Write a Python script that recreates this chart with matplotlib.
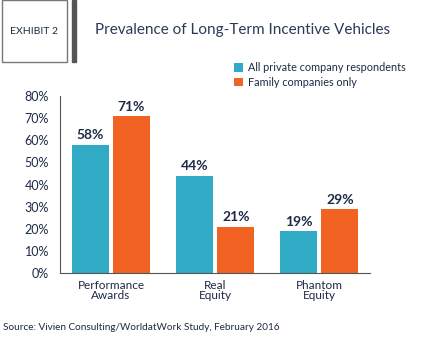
import numpy as np
import matplotlib.pyplot as plt
from matplotlib.patches import Rectangle

plt.rcParams['font.family'] = ['Lato', 'DejaVu Sans']

categories = ['Performance\nAwards', 'Real\nEquity', 'Phantom\nEquity']
all_private = [58, 44, 19]
family_only = [71, 21, 29]
series_names = ['All private company respondents', 'Family companies only']
yticks = [0, 10, 20, 30, 40, 50, 60, 70, 80]

blue = '#31aac5'
orange = '#f26223'
navy = '#1d2a45'

W, H = 421, 338
fig = plt.figure(figsize=(W / 100, H / 100), dpi=100)
ax = fig.add_axes([60 / W, (H - 273) / H, 310 / W, 177 / H])

x = np.arange(len(categories))
bw = 0.356
off = 0.197
b1 = ax.bar(x - off, all_private, bw, color=blue, label=series_names[0])
b2 = ax.bar(x + off, family_only, bw, color=orange, label=series_names[1])

for bars in (b1, b2):
    for r in bars:
        ax.text(r.get_x() + r.get_width() / 2, r.get_height() + 1.5,
                '%d%%' % r.get_height(), ha='center', va='bottom',
                fontsize=10, fontweight='bold', color=navy)

ax.set_xlim(-0.49, 2.486)
ax.set_ylim(0, 80)
ax.set_yticks(yticks)
ax.set_yticklabels(['%d%%' % v for v in yticks], fontsize=9, color=navy)
ax.set_xticks(x)
ax.set_xticklabels(categories, fontsize=8.5, color=navy, linespacing=0.95)
ax.tick_params(length=0, pad=5)
ax.tick_params(axis='y', pad=8)
for s in ['top', 'right']:
    ax.spines[s].set_visible(False)
ax.spines['left'].set_color('#555555')
ax.spines['bottom'].set_color('#555555')

fig.legend(handles=[b1, b2], loc='upper left',
           bbox_to_anchor=(230 / W, 1 - 58 / H), frameon=False,
           fontsize=7.8, handlelength=0.8, handleheight=0.8,
           handletextpad=0.5, labelspacing=0.3, borderaxespad=0,
           labelcolor=navy)

# header
fig.patches.append(Rectangle((2 / W, 1 - 62 / H), 65 / W, 62 / H,
                             transform=fig.transFigure, fill=False,
                             edgecolor='#777777', lw=1))
fig.patches.append(Rectangle((72 / W, 1 - 62 / H), 4 / W, 62 / H,
                             transform=fig.transFigure, color='#555555'))
fig.text(34 / W, 1 - 31 / H, 'EXHIBIT 2', ha='center', va='center',
         fontsize=7.5, color=navy)
fig.text(95 / W, 1 - 30 / H, 'Prevalence of Long-Term Incentive Vehicles',
         ha='left', va='center', fontsize=11, color='#2b3a57')
fig.text(3 / W, 1 - 327 / H, 'Source: Vivien Consulting/WorldatWork Study, February 2016',
         ha='left', va='center', fontsize=7.2, color=navy)

fig.savefig('out.png', dpi=100)
